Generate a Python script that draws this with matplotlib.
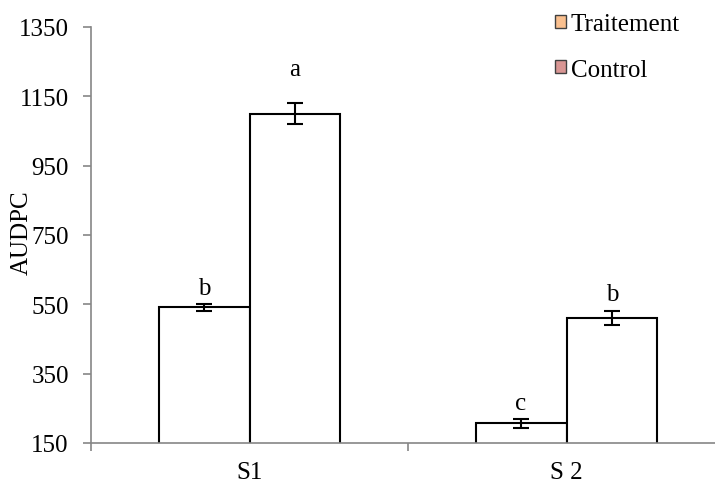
import matplotlib
matplotlib.use("Agg")
import matplotlib.pyplot as plt
import numpy as np
from matplotlib.patches import Patch

plt.rcParams['font.family'] = ['Liberation Serif', 'DejaVu Serif']

categories = ["S1", "S 2"]
series_names = ["Traitement", "Control"]
traitement = [542, 207]
control = [1100, 510]
traitement_err = [10, 13]
control_err = [30, 21]
traitement_letters = ["b", "c"]
control_letters = ["a", "b"]
yticks = [150, 350, 550, 750, 950, 1150, 1350]
legend_colors = ["#FAC08F", "#D99694"]

FS = 18
fig = plt.figure(figsize=(7.15, 4.85), dpi=100)
ax = fig.add_axes([91 / 715, 1 - 444 / 485, 1 - 91 / 715, (444 - 28) / 485])

x = np.arange(len(categories))
w = 0.287
grey = "#868686"

ax.bar(x - w / 2, traitement, w, color="white", edgecolor="black",
       linewidth=1.5, zorder=2)
ax.bar(x + w / 2, control, w, color="white", edgecolor="black",
       linewidth=1.5, zorder=2)
ax.errorbar(x - w / 2, traitement, yerr=traitement_err, fmt="none", ecolor="black",
            elinewidth=1.5, capsize=6, capthick=1.5, zorder=3)
ax.errorbar(x + w / 2, control, yerr=control_err, fmt="none", ecolor="black",
            elinewidth=1.5, capsize=6, capthick=1.5, zorder=3)

for xi, v, e, t in zip(x - w / 2, traitement, traitement_err, traitement_letters):
    ax.annotate(t, (xi, v + e), xytext=(0, 3.5), textcoords="offset points",
                ha="center", va="bottom", fontsize=FS)
for xi, v, e, t in zip(x + w / 2, control, control_err, control_letters):
    off = 17 if t == "a" else 4.5
    ax.annotate(t, (xi, v + e), xytext=(0, off), textcoords="offset points",
                ha="center", va="bottom", fontsize=FS)

ax.set_ylim(150, 1350)
ax.set_yticks(yticks)
ax.set_yticklabels([str(t) for t in yticks], fontsize=FS)
ax.set_xlim(-0.5, (715 - 91) / 317 - 0.5)
ax.set_xticks(x)
ax.set_xticklabels(categories, fontsize=FS)
ax.tick_params(axis="x", length=0, pad=13)
ax.tick_params(axis="y", length=6, color=grey, width=1.2, pad=10)
# category boundary tick marks on the x axis
ax.set_xticks([-0.5, 0.5], minor=True)
ax.tick_params(axis="x", which="minor", length=6, color=grey, width=1.2)

for s in ["top", "right"]:
    ax.spines[s].set_visible(False)
for s in ["left", "bottom"]:
    ax.spines[s].set_color(grey)
    ax.spines[s].set_linewidth(1.2)

fig.text(22 / 715, 1 - 233 / 485, "AUDPC", rotation=90, ha="center", va="center",
         fontsize=FS)

handles = [Patch(facecolor=c, edgecolor="#404040", linewidth=1) for c in legend_colors]
fig.legend(handles, series_names, loc="upper left", bbox_to_anchor=(555 / 715, 1 - 14 / 485),
           frameon=False, fontsize=FS, handlelength=0.42, handleheight=0.42,
           handletextpad=0.2, labelspacing=0.95, borderaxespad=0, borderpad=0)

fig.savefig("out.png", dpi=100)
